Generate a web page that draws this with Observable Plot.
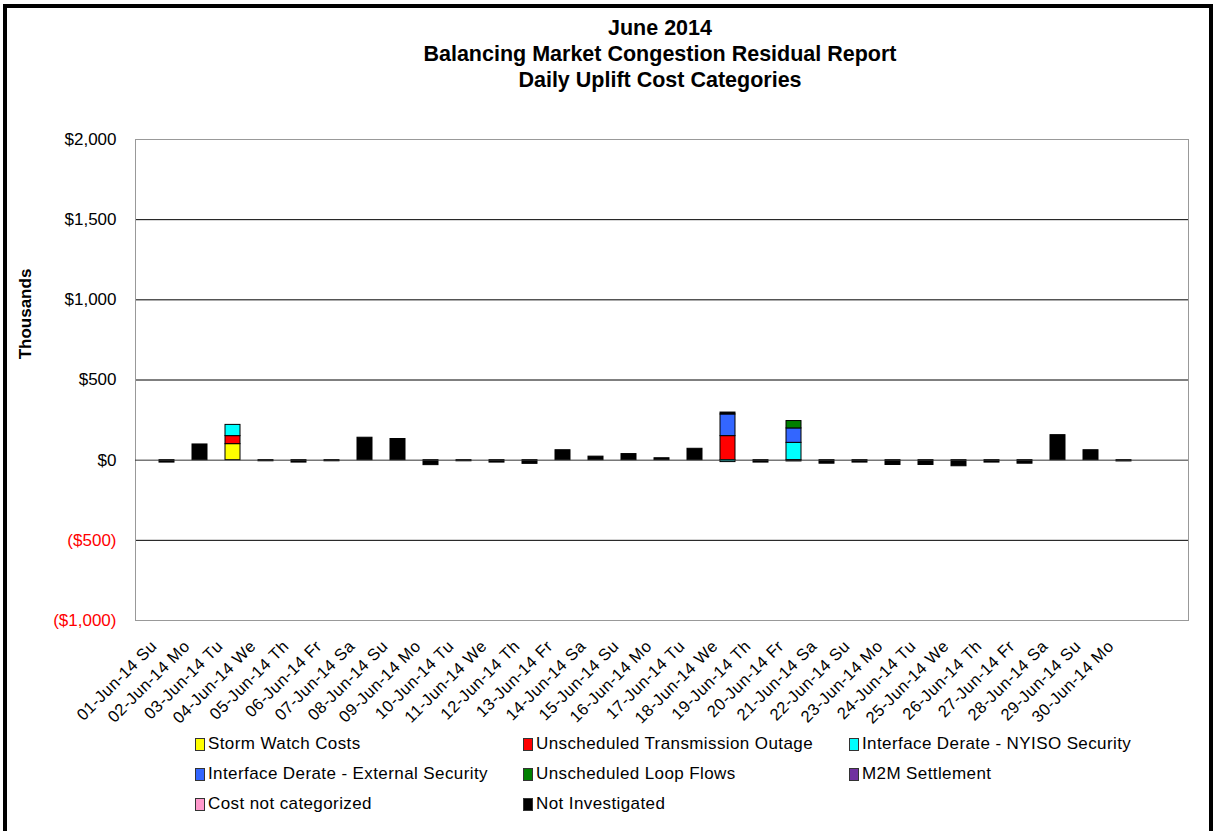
<!DOCTYPE html>
<html>
<head>
<meta charset="utf-8">
<script src="https://cdn.jsdelivr.net/npm/d3@7"></script>
<script src="https://cdn.jsdelivr.net/npm/@observablehq/plot@0.6"></script>
<style>
  html, body { margin: 0; padding: 0; background: #fff; font-family: "Liberation Sans", Arial, sans-serif; }
  #wrap { position: relative; width: 1215px; height: 831px; overflow: hidden; }
  #border { position: absolute; left: 3px; top: 4px; width: 1202px; height: 840px; border: 4px solid #000; }
  .title { position: absolute; left: 0; width: 1320px; text-align: center; font-weight: bold; font-size: 21.5px; color: #000; }
  #ylab { position: absolute; left: 26px; top: 314px; transform: translate(-50%, -50%) rotate(-90deg); font-weight: bold; font-size: 17px; white-space: nowrap; }
  #chart { position: absolute; left: 0; top: 0; }
  #chart g[aria-label="x-axis tick label"] text { letter-spacing: 0.5px; }
  .leg { position: absolute; font-size: 17px; letter-spacing: 0.4px; white-space: nowrap; display: flex; align-items: center; }
  .sw { display: inline-block; width: 8px; height: 11px; border: 1px solid #333; margin-right: 3px; }
</style>
</head>
<body>
<div id="wrap">
  <div id="border"></div>
  <div class="title" style="top:16px">June 2014</div>
  <div class="title" style="top:42px">Balancing Market Congestion Residual Report</div>
  <div class="title" style="top:68px">Daily Uplift Cost Categories</div>
  <div id="ylab">Thousands</div>
  <div id="chart"></div>
  <div id="legend"></div>
</div>
<script>
const days = ["01-Jun-14 Su","02-Jun-14 Mo","03-Jun-14 Tu","04-Jun-14 We","05-Jun-14 Th","06-Jun-14 Fr","07-Jun-14 Sa","08-Jun-14 Su","09-Jun-14 Mo","10-Jun-14 Tu","11-Jun-14 We","12-Jun-14 Th","13-Jun-14 Fr","14-Jun-14 Sa","15-Jun-14 Su","16-Jun-14 Mo","17-Jun-14 Tu","18-Jun-14 We","19-Jun-14 Th","20-Jun-14 Fr","21-Jun-14 Sa","22-Jun-14 Su","23-Jun-14 Mo","24-Jun-14 Tu","25-Jun-14 We","26-Jun-14 Th","27-Jun-14 Fr","28-Jun-14 Sa","29-Jun-14 Su","30-Jun-14 Mo"];

const seriesNames = ["Storm Watch Costs","Unscheduled Transmission Outage","Interface Derate - NYISO Security","Interface Derate - External Security","Unscheduled Loop Flows","M2M Settlement","Cost not categorized","Not Investigated"];
const seriesColors = ["#FFFF00","#FF0000","#00FFFF","#3366FF","#008000","#7030A0","#FF99CC","#000000"];

// values in $ thousands, one per day
const stormWatch      = [0,0,100,0,0,0,0,0,0,0,0,0,0,0,0,0,0,0,0,0,0,0,0,0,0,0,0,0,0,0];
const transOutage     = [0,0,50,0,0,0,0,0,0,0,0,0,0,0,0,0,0,150,0,0,0,0,0,0,0,0,0,0,0,0];
const nyisoSecurity   = [0,0,70,0,0,0,0,0,0,0,0,0,0,0,0,0,0,-12,0,108,0,0,0,0,0,0,0,0,0,0];
const externalSecurity= [0,0,0,0,0,0,0,0,0,0,0,0,0,0,0,0,0,135,0,90,0,0,0,0,0,0,0,0,0,0];
const loopFlows       = [0,0,0,0,0,0,0,0,0,0,0,0,0,0,0,0,0,0,0,46,0,0,0,0,0,0,0,0,0,0];
const m2mSettlement   = [0,0,0,0,0,0,0,0,0,0,0,0,0,0,0,0,0,0,0,0,0,0,0,0,0,0,0,0,0,0];
const notCategorized  = [0,0,0,0,0,0,0,0,0,0,0,0,0,0,0,0,0,0,0,0,0,0,0,0,0,0,0,0,0,0];
const notInvestigated = [-15,98,0,-7,-15,-7,140,132,-31,-7,-15,-23,62,22,38,12,71,12,-15,-8,-22,-15,-30,-30,-38,-15,-22,156,62,-8];

const yTicks = [-1000,-500,0,500,1000,1500,2000];

const seriesValues = [stormWatch,transOutage,nyisoSecurity,externalSecurity,loopFlows,m2mSettlement,notCategorized,notInvestigated];
const rows = [];
seriesNames.forEach((s, i) => {
  seriesValues[i].forEach((v, j) => { if (v !== 0) rows.push({day: days[j], series: s, value: v}); });
});

const xDomain = [...days, "~"]; // empty 31st slot as in the source chart
const fmtNum = d3.format(",");
const fmtY = d => d < 0 ? `($${fmtNum(-d)})` : `$${fmtNum(d)}`;

const chart = Plot.plot({
  width: 1215,
  height: 735,
  marginTop: 139,
  marginBottom: 115,
  marginLeft: 135,
  marginRight: 27,
  style: {fontFamily: "'Liberation Sans', Arial, sans-serif", background: "transparent"},
  x: {domain: xDomain, padding: 0.56, label: null},
  y: {domain: [-1000, 2000], label: null},
  color: {domain: seriesNames, range: seriesColors},
  marks: [
    Plot.ruleY([-500, 500, 1000, 1500], {stroke: "#000", strokeWidth: 1}),
    Plot.frame({stroke: "#999"}),
    Plot.barY(rows, Plot.stackY({order: seriesNames}, {x: "day", y: "value", z: "series", fill: "series", stroke: "#000", strokeWidth: 1})),
    Plot.ruleY([0], {stroke: "#333", strokeWidth: 1}),
    Plot.axisY({ticks: yTicks, tickFormat: fmtY, tickSize: 0, tickPadding: 19, fontSize: 17, fill: d => d < 0 ? "#FF0000" : "#000", label: null}),
    Plot.axisX({tickRotate: -45, tickSize: 0, tickPadding: 23, dx: -13, fontSize: 16.5, tickFormat: d => d === "~" ? "" : d, label: null})
  ]
});
document.getElementById("chart").appendChild(chart);

// legend (3 columns x 3 rows, as in source)
const legPos = [[195,745],[523,745],[849,745],[195,775],[523,775],[849,775],[195,805],[523,805]];
const legend = document.getElementById("legend");
seriesNames.forEach((s, i) => {
  const d = document.createElement("div");
  d.className = "leg";
  d.style.left = legPos[i][0] + "px";
  d.style.top = (legPos[i][1] - 11) + "px";
  d.innerHTML = `<span class="sw" style="background:${seriesColors[i]}"></span>${s}`;
  legend.appendChild(d);
});
</script>
</body>
</html>
